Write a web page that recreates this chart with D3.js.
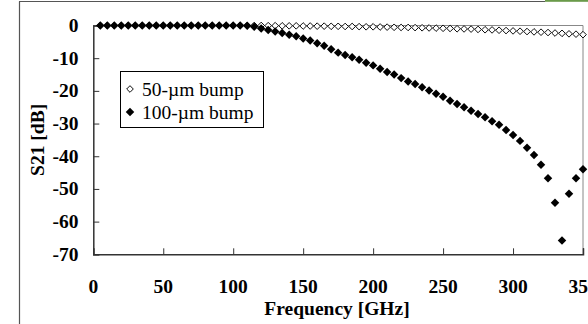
<!DOCTYPE html>
<html>
<head>
<meta charset="utf-8">
<script src="https://cdn.jsdelivr.net/npm/d3@7"></script>
<style>
  body { margin: 0; background: #fff; }
  text { font-family: "Liberation Serif", "Times New Roman", serif; }
</style>
</head>
<body>
<div id="chart"></div>
<script>
// frequency points [GHz]
const freq = [5, 10, 15, 20, 25, 30, 35, 40, 45, 50, 55, 60, 65, 70, 75, 80, 85, 90, 95, 100,
  105, 110, 115, 120, 125, 130, 135, 140, 145, 150, 155, 160, 165, 170, 175, 180, 185, 190, 195, 200,
  205, 210, 215, 220, 225, 230, 235, 240, 245, 250, 255, 260, 265, 270, 275, 280, 285, 290, 295, 300,
  305, 310, 315, 320, 325, 330, 335, 340, 345, 350];

// S21 [dB], 50-um bump
const s21Bump50 = [0, 0, 0, 0, 0, 0, 0, 0, 0, 0, 0, 0, 0, 0, 0, 0, 0, 0, 0, 0,
  0, 0, 0, 0, -0.05, -0.05, -0.1, -0.1, -0.1, -0.15, -0.15, -0.2, -0.2, -0.25, -0.25, -0.3, -0.3, -0.35, -0.4, -0.4,
  -0.45, -0.5, -0.55, -0.6, -0.6, -0.65, -0.7, -0.75, -0.8, -0.85, -0.9, -1.0, -1.05, -1.1, -1.2, -1.3, -1.35, -1.45, -1.55, -1.65,
  -1.75, -1.85, -1.95, -2.05, -2.15, -2.3, -2.4, -2.55, -2.65, -2.8];

// S21 [dB], 100-um bump
const s21Bump100 = [0, 0, 0, 0, 0, 0, 0, 0, 0, 0, 0, 0, 0, 0, 0, 0, 0, 0, 0, 0,
  0, -0.1, -0.4, -0.9, -1.4, -1.8, -2.3, -2.8, -3.3, -4.0, -4.6, -5.4, -6.2, -7.3, -8.3, -9.0, -9.7, -10.5, -11.4, -12.2,
  -13.2, -14.2, -15.0, -16.1, -17.1, -17.9, -18.9, -19.9, -20.9, -21.8, -23.0, -24.0, -25.0, -26.1, -27.1, -28.1, -29.3, -30.4, -32.0, -33.5,
  -35.3, -37.4, -39.6, -42.6, -46.7, -54.2, -65.8, -51.5, -46.7, -44.0];

const xTicks = [0, 50, 100, 150, 200, 250, 300, 350];
const yTicks = [0, -10, -20, -30, -40, -50, -60, -70];
const legendLabels = ['50-\u00b5m bump', '100-\u00b5m bump'];

const width = 588, height = 324;
const margin = { top: 25.5, right: 5, bottom: 69.7, left: 93.3 };

const svg = d3.select('#chart').append('svg')
  .attr('width', width).attr('height', height);

svg.append('rect').attr('width', width).attr('height', height).attr('fill', '#fff');

// outer frame bits
svg.append('line').attr('x1', 19.5).attr('x2', 19.5).attr('y1', 1.5).attr('y2', height)
  .attr('stroke', '#555').attr('stroke-width', 1.2);
svg.append('line').attr('x1', 19).attr('x2', 545).attr('y1', 1.5).attr('y2', 1.5)
  .attr('stroke', '#555').attr('stroke-width', 1.2);
svg.append('rect').attr('x', 545).attr('y', 0).attr('width', 43).attr('height', 1.8).attr('fill', '#6a9a4a');

const x = d3.scaleLinear().domain([0, 350]).range([margin.left, width - margin.right]);
const y = d3.scaleLinear().domain([-70, 0]).range([height - margin.bottom, margin.top]);

// plot frame (top / right thin gray)
svg.append('path')
  .attr('d', `M${x(0)},${y(0)}H${x(350)}V${y(-70)}`)
  .attr('fill', 'none').attr('stroke', '#888').attr('stroke-width', 1);

// axes with inward ticks
const xAxis = svg.append('g').attr('transform', `translate(0,${y(-70)})`)
  .call(d3.axisTop(x).tickValues(xTicks).tickSize(6).tickFormat(''));
const yAxis = svg.append('g').attr('transform', `translate(${x(0)},0)`)
  .call(d3.axisRight(y).tickValues(yTicks).tickSize(6).tickFormat(''));
[xAxis, yAxis].forEach(g => {
  g.select('.domain').attr('stroke', '#333').attr('stroke-width', 1.5);
  g.selectAll('.tick line').attr('stroke', '#333').attr('stroke-width', 1);
});

const fs = 19.5;

svg.append('g').selectAll('text').data(xTicks).join('text')
  .attr('x', d => x(d)).attr('y', 292.5)
  .attr('text-anchor', 'middle')
  .attr('font-size', fs).attr('font-weight', 'bold')
  .text(d => d);

svg.append('g').selectAll('text').data(yTicks).join('text')
  .attr('x', 78.5).attr('y', d => y(d) + 6.5)
  .attr('text-anchor', 'end')
  .attr('font-size', fs).attr('font-weight', 'bold')
  .text(d => d);

svg.append('text')
  .attr('transform', `translate(44,${(y(0) + y(-70)) / 2}) rotate(-90)`)
  .attr('text-anchor', 'middle')
  .attr('font-size', fs).attr('font-weight', 'bold')
  .text('S21 [dB]');

svg.append('text')
  .attr('x', 337).attr('y', 315)
  .attr('text-anchor', 'middle')
  .attr('font-size', fs).attr('font-weight', 'bold')
  .text('Frequency [GHz]');

// diamond markers
const diamond = (s) => d3.symbol().type(d3.symbolSquare).size(s)();
const openD = diamond(22), fullD = diamond(36);

svg.append('g').selectAll('path').data(freq).join('path')
  .attr('d', openD)
  .attr('transform', (d, i) => `translate(${x(d)},${y(s21Bump50[i])}) rotate(45)`)
  .attr('fill', '#fff').attr('stroke', '#000').attr('stroke-width', 0.9);

svg.append('g').selectAll('path').data(freq).join('path')
  .attr('d', fullD)
  .attr('transform', (d, i) => `translate(${x(d)},${y(s21Bump100[i])}) rotate(45)`)
  .attr('fill', '#000');

// legend
const lg = svg.append('g');
lg.append('rect').attr('x', 120.5).attr('y', 71.5).attr('width', 143).attr('height', 56)
  .attr('fill', '#fff').attr('stroke', '#000').attr('stroke-width', 1);
lg.append('path').attr('d', openD).attr('transform', 'translate(130,89) rotate(45)')
  .attr('fill', '#fff').attr('stroke', '#000').attr('stroke-width', 0.9);
lg.append('path').attr('d', fullD).attr('transform', 'translate(130,112) rotate(45)')
  .attr('fill', '#000');
lg.selectAll('text').data(legendLabels).join('text')
  .attr('x', 142).attr('y', (d, i) => 95.5 + i * 23)
  .attr('font-size', 19.5)
  .text(d => d);
</script>
</body>
</html>
